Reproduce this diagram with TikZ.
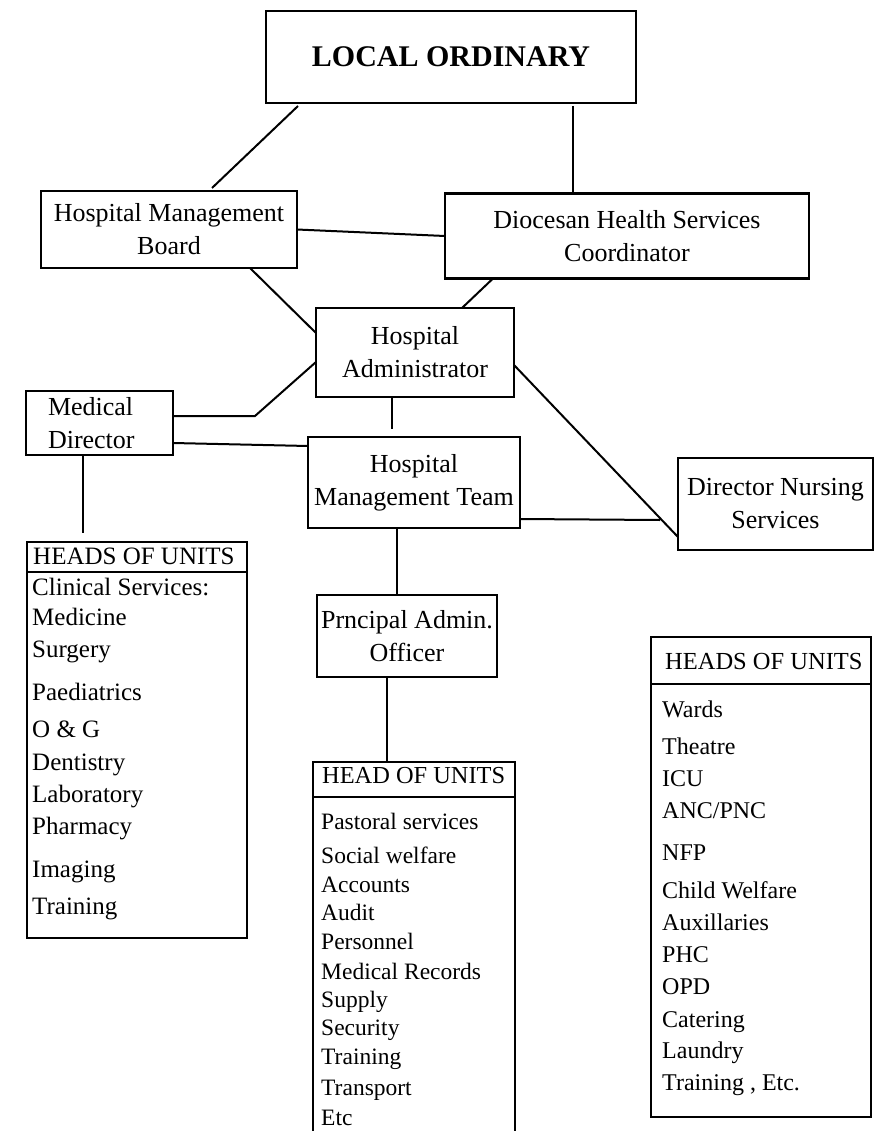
\documentclass[tikz,border=0pt]{standalone}
\usepackage{fontspec}
\setmainfont{Liberation Serif}
\usetikzlibrary{calc}
\begin{document}
\begin{tikzpicture}[
  x=1pt, y=-1pt,
  box/.style={draw, line width=2.2pt, inner sep=0pt, outer sep=0pt, align=center, font=\fontsize{26}{33}\selectfont},
  head/.style={anchor=west, inner sep=0pt, text height=0.66em, text depth=0pt, yshift=-4pt},
  item/.style={anchor=west, inner sep=0pt, text height=0.66em, text depth=0pt, yshift=-4pt},
  link/.style={line width=2pt}
]
\path[use as bounding box, fill=white] (0,0) rectangle (878,1131);
\node[box, minimum width=370, minimum height=92, font=\fontsize{30}{36}\selectfont\bfseries] (ordinary) at (451,57) {LOCAL ORDINARY};
\node[box, minimum width=256, minimum height=77] (board) at (169,229.5) {Hospital Management\\Board};
\node[box, minimum width=364, minimum height=85] (coord) at (627,236) {Diocesan Health Services\\Coordinator};
\node[box, minimum width=198, minimum height=89] (admin) at (415,352.5) {Hospital\\Administrator};
\node[box, minimum width=147, minimum height=64, text width=103, align=left] (meddir) at (99.5,423) {Medical\\Director};
\node[box, minimum width=212, minimum height=91] (team) at (414,482.5) {Hospital\\Management Team};
\node[box, minimum width=195, minimum height=92] (nursing) at (775.5,504) {Director Nursing\\Services};
\node[box, minimum width=180, minimum height=82] (pao) at (407,636) {Prncipal Admin.\\Officer};
\node[box, minimum width=220, minimum height=396] (leftunits) at (137,740) {};
\node[box, minimum width=202, minimum height=378] (midunits) at (414,951) {};
\node[box, minimum width=220, minimum height=480] (rightunits) at (761,877) {};

\draw[link] ($(leftunits.north west)+(0,30)$) -- ($(leftunits.north east)+(0,30)$);
\draw[link] ($(midunits.north west)+(0,35)$) -- ($(midunits.north east)+(0,35)$);
\draw[link] ($(rightunits.north west)+(0,47)$) -- ($(rightunits.north east)+(0,47)$);

\node[head, font=\fontsize{25}{30}\selectfont] (lefthead) at (33,557) {HEADS OF UNITS};
\node[head, font=\fontsize{24.4}{30}\selectfont] (midhead) at (322,776) {HEAD OF UNITS};
\node[head, font=\fontsize{24.5}{30}\selectfont] (righthead) at (665,662) {HEADS OF UNITS};

\foreach \y/\t [count=\i] in {588/Clinical Services:, 618/Medicine, 650/Surgery, 693/Paediatrics, 730/O \& G, 763/Dentistry, 795/Laboratory, 827/Pharmacy, 870/Imaging, 907/Training}
  \node[item, font=\fontsize{25}{30}\selectfont] (clin\i) at (32,\y) {\t};
\foreach \y/\t [count=\i] in {822/Pastoral services, 856/Social welfare, 885/Accounts, 913/Audit, 942/Personnel, 972/Medical Records, 1000/Supply, 1028/Security, 1057/Training, 1088/Transport, 1118/Etc}
  \node[item, font=\fontsize{23.5}{30}\selectfont] (adm\i) at (321,\y) {\t};
\foreach \y/\t [count=\i] in {710/Wards, 747/Theatre, 779/ICU, 811/{ANC/PNC}, 853/NFP, 891/Child Welfare, 923/Auxillaries, 955/PHC, 987/OPD, 1020/Catering, 1051/Laundry, 1083/{Training , Etc.}}
  \node[item, font=\fontsize{24}{30}\selectfont] (nur\i) at (662,\y) {\t};

\draw[link] ($(ordinary.south west)+(32,3)$) -- ($(board.north)+(43,-3)$);
\draw[link] ($(ordinary.south)+(122,3)$) -- ($(coord.north)+(-54,0)$);
\draw[link] (board.east) -- (coord.west);
\draw[link] ($(board.south)+(81,0)$) -- ($(admin.west)+(0,-19.5)$);
\draw[link] ($(coord.south west)+(48,0)$) -- ($(admin.north)+(47,0)$);
\draw[link] ($(meddir.east)+(0,-7)$) -- ++(82,0) -- ($(admin.west)+(0,9.5)$);
\draw[link] ($(meddir.east)+(0,20)$) -- ($(team.west)+(0,-36.5)$);
\draw[link] ($(admin.south)+(-23,0)$) -- ($(team.north)+(-22,-8)$);
\draw[link] ($(admin.east)+(0,12.5)$) -- ($(nursing.south west)+(0,-13)$);
\draw[link] ($(team.east)+(0,36.5)$) -- ($(nursing.west)+(-18,16)$);
\draw[link] ($(meddir.south)+(-16.5,0)$) -- ($(leftunits.north)+(-54,-9)$);
\draw[link] ($(team.south)+(-17,0)$) -- ($(pao.north)+(-10,0)$);
\draw[link] ($(pao.south)+(-20,0)$) -- ($(midunits.north)+(-27,0)$);
\end{tikzpicture}
\end{document}
